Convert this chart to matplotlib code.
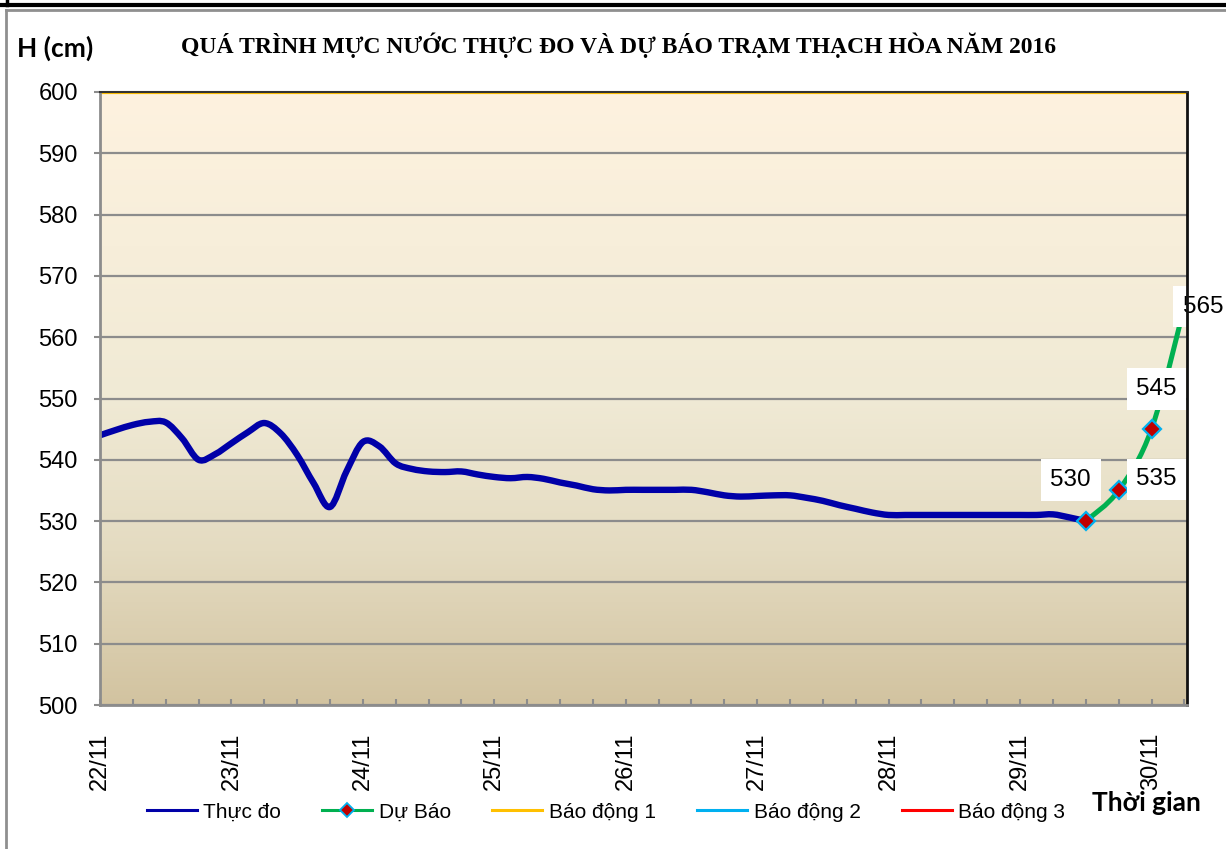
import numpy as np
import matplotlib
matplotlib.use("Agg")
import matplotlib.pyplot as plt
from matplotlib.path import Path
from matplotlib.patches import PathPatch
from matplotlib.lines import Line2D
from matplotlib.colors import LinearSegmentedColormap

# ---------------- data ----------------
day_labels = ["22/11", "23/11", "24/11", "25/11", "26/11", "27/11", "28/11", "29/11", "30/11"]

obs_hours = list(range(0, 181, 3))
obs_level = [544.0, 544.9, 545.7, 546.2, 546.1, 543.5, 540.0, 540.9, 542.7, 544.5,
             546.0, 544.3, 540.8, 536.2, 532.3, 538.1, 542.9, 542.2, 539.4, 538.5,
             538.1, 538.0, 538.1, 537.6, 537.2, 537.0, 537.2, 536.9, 536.3, 535.8,
             535.2, 535.0, 535.1, 535.1, 535.1, 535.1, 535.1, 534.7, 534.2, 534.0,
             534.1, 534.2, 534.2, 533.8, 533.3, 532.6, 532.0, 531.4, 531.0, 531.0,
             531.0, 531.0, 531.0, 531.0, 531.0, 531.0, 531.0, 531.0, 531.1, 530.6,
             530.0]

fc_hours = [180, 186, 192, 198]
fc_level = [530, 535, 545, 565]

alert_levels = [600, 650, 700]
alert_names = ["Báo động 1", "Báo động 2", "Báo động 3"]
alert_colors = ["#FFC000", "#00B0F0", "#FF0000"]

# ---------------- helpers ----------------
def smooth_path(xs, ys):
    xs = np.asarray(xs, float)
    ys = np.asarray(ys, float)
    n = len(xs)
    verts = [(xs[0], ys[0])]
    codes = [Path.MOVETO]
    for i in range(n - 1):
        p0 = np.array([xs[max(i - 1, 0)], ys[max(i - 1, 0)]])
        p1 = np.array([xs[i], ys[i]])
        p2 = np.array([xs[i + 1], ys[i + 1]])
        p3 = np.array([xs[min(i + 2, n - 1)], ys[min(i + 2, n - 1)]])
        c1 = p1 + (p2 - p0) / 6.0
        c2 = p2 - (p3 - p1) / 6.0
        verts += [tuple(c1), tuple(c2), tuple(p2)]
        codes += [Path.CURVE4] * 3
    return Path(verts, codes)

obs_x = np.array(obs_hours) / 24.0
fc_x = np.array(fc_hours) / 24.0

SANS = ["Liberation Sans", "DejaVu Sans"]

# ---------------- figure ----------------
W, H = 1226, 849
fig = plt.figure(figsize=(W / 100, H / 100), dpi=100)
fig.patch.set_facecolor("white")

ax = fig.add_axes([100 / W, 1 - 705 / H, (1187 - 100) / W, (705 - 92) / H])
xmin, xmax = 0.0, 8.27
ymin, ymax = 500, 600
ax.set_xlim(xmin, xmax)
ax.set_ylim(ymin, ymax)

# gradient background
cmap = LinearSegmentedColormap.from_list(
    "bg", [(0.0, "#D2C3A0"), (0.25, "#E4DBC1"), (0.5, "#F0EAD5"), (1.0, "#FEF2DF")])
grad = np.linspace(0, 1, 256).reshape(-1, 1)
ax.imshow(grad, cmap=cmap, aspect="auto", origin="lower",
          extent=[xmin, xmax, ymin, ymax], zorder=0)

# grid
ax.set_yticks(np.arange(500, 601, 10))
ax.yaxis.grid(True, color="#8C8C8C", linewidth=1.6, zorder=1)
ax.set_axisbelow(False)

# alert lines
for lvl, col in zip(alert_levels, alert_colors):
    ax.axhline(lvl, color=col, linewidth=3, zorder=3)

# observed line
ax.add_patch(PathPatch(smooth_path(obs_x, obs_level), fill=False,
                       edgecolor="#0000A8", linewidth=4.6, zorder=4,
                       capstyle="round", joinstyle="round"))
# forecast line
ax.add_patch(PathPatch(smooth_path(fc_x, fc_level), fill=False,
                       edgecolor="#00B050", linewidth=3.6, zorder=5,
                       capstyle="round", joinstyle="round"))
ax.plot(fc_x, fc_level, linestyle="none", marker="D", markersize=9,
        markerfacecolor="#C00000", markeredgecolor="#00B0F0",
        markeredgewidth=1.6, zorder=6, clip_on=False)

# data labels
offsets = [(-15, 41), (38, 11), (5, 40), (19, 0)]
for x, v, off in zip(fc_x, fc_level, offsets):
    ax.annotate(str(v), (x, v), xytext=off, textcoords="offset pixels",
                ha="center", va="center", fontsize=17.5,
                family=SANS, zorder=7,
                bbox=dict(boxstyle="square,pad=0.4", facecolor="white", edgecolor="none"),
                annotation_clip=False)

# ticks
ax.set_xticks(np.arange(0, 9))
ax.set_xticklabels(day_labels, rotation=90, va="top", ha="center",
                   fontsize=17, family=SANS)
ax.set_xticks(np.arange(0, 8.3, 0.25), minor=True)
ax.tick_params(axis="x", which="both", direction="in", length=4.5, width=1.5,
               color="#8C8C8C", pad=20)
ax.set_yticklabels([str(v) for v in range(500, 601, 10)], fontsize=17, family=SANS)
ax.tick_params(axis="y", which="major", direction="out", length=4, width=1.5,
               color="#8C8C8C", pad=12)

# spines
for side in ["left", "bottom"]:
    ax.spines[side].set_color("#8C8C8C")
    ax.spines[side].set_linewidth(2)
ax.spines["right"].set_color("#111111")
ax.spines["right"].set_linewidth(2)
ax.spines["top"].set_color("#333333")
ax.spines["top"].set_linewidth(1.5)
for s in ax.spines.values():
    s.set_zorder(8)

# titles
fig.text(619 / W, 1 - 45 / H,
         "QUÁ TRÌNH MỰC NƯỚC THỰC ĐO VÀ DỰ BÁO TRẠM THẠCH HÒA NĂM 2016",
         ha="center", va="center", fontsize=17, fontweight="bold",
         family=["Liberation Serif", "DejaVu Serif"])
fig.text(17 / W, 1 - 48 / H, "H (cm)", ha="left", va="center", fontsize=19,
         fontweight="bold", family=["Lato", "DejaVu Sans"])
fig.text(1092 / W, 1 - 803 / H, "Thời gian", ha="left", va="center", fontsize=19,
         fontweight="bold", family=["Lato", "DejaVu Sans"])

# legend
handles = [Line2D([], [], color="#0000A8", linewidth=2.2),
           Line2D([], [], color="#00B050", linewidth=2.2, marker="D", markersize=7,
                  markerfacecolor="#C00000", markeredgecolor="#00B0F0", markeredgewidth=1.3)]
handles += [Line2D([], [], color=c, linewidth=2.2) for c in alert_colors]
labels = ["Thực đo", "Dự Báo"] + alert_names
fig.legend(handles, labels, loc="center", bbox_to_anchor=(606 / W, 1 - 812 / H),
           ncol=5, frameon=False, handlelength=2.4, handletextpad=0.3,
           columnspacing=2.0, prop={"family": SANS, "size": 15})

# outer frame lines
fig.add_artist(Line2D([0, 1], [1 - 5 / H, 1 - 5 / H], transform=fig.transFigure,
                      color="black", linewidth=3))
fig.add_artist(Line2D([7 / W, 7 / W], [1, 1 - 5 / H], transform=fig.transFigure,
                      color="black", linewidth=2.5))
fig.add_artist(Line2D([6 / W, 1], [1 - 10 / H, 1 - 10 / H], transform=fig.transFigure,
                      color="#8F8F8F", linewidth=2))
fig.add_artist(Line2D([6 / W, 6 / W], [0, 1 - 10 / H], transform=fig.transFigure,
                      color="#8F8F8F", linewidth=2))

fig.savefig("out.png", dpi=100)
